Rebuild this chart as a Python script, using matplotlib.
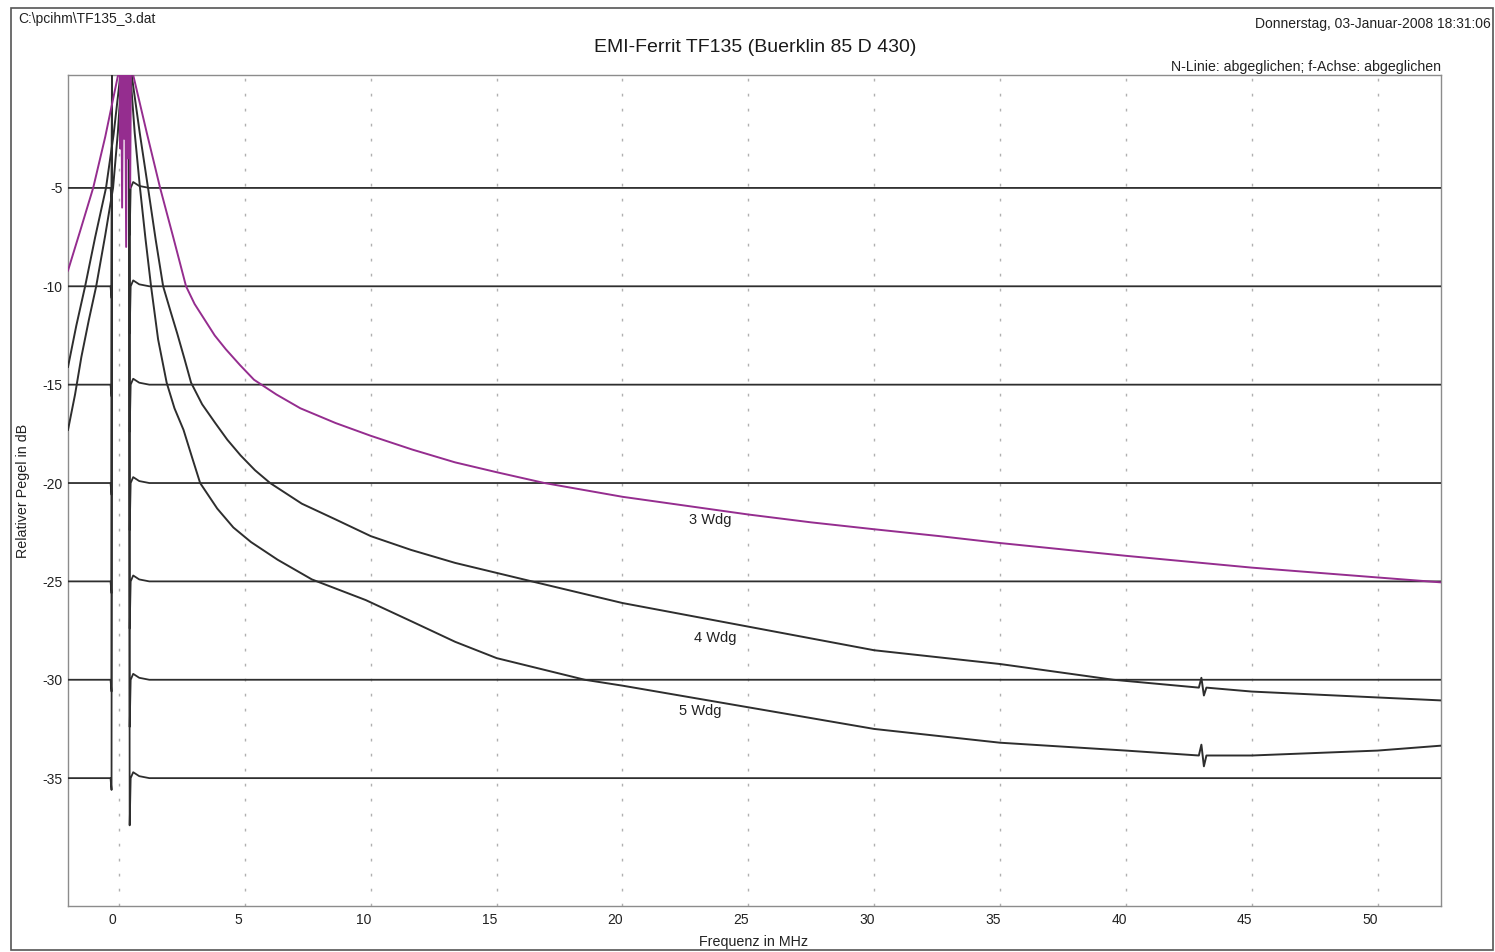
import matplotlib
matplotlib.use("Agg")
import matplotlib.pyplot as plt
from matplotlib.patches import Rectangle
from matplotlib.transforms import ScaledTranslation

plt.rcParams['font.family'] = ['Liberation Sans', 'DejaVu Sans']

# ---------------- data ----------------
# flat calibration lines ("N-Linie"), level in dB
ref_levels = [-5, -10, -15, -20, -25, -30, -35]
# shape of each calibration line around the 0 Hz feed-through (offset from level, None = off-scale peak)
ref_freq = [-2.03, -0.34, -0.30, -0.28, 0.40, 0.42, 0.46, 0.56, 0.80, 1.20, 52.52]
ref_offset = [0.0, 0.0, -0.6, None, None, -2.4, 0.0, 0.3, 0.1, 0.0, 0.0]
peak_db = 3.0

# 3 windings (purple)
w3_freq = [-2.03, -1.55, -1.03, -0.55, -0.04, 0.02, 0.05, 0.08, 0.12, 0.16, 0.20, 0.24,
           0.28, 0.32, 0.36, 0.40, 0.44, 0.48, 0.56, 1.10, 1.63, 2.15, 2.66, 3.0, 3.4, 3.8,
           4.24, 4.8, 5.36, 6.25, 7.2, 8.6, 10.0, 11.65, 13.35, 15.0, 16.9, 20.0, 22.5,
           25.0, 27.5, 30.0, 32.6, 35.0, 40.0, 45.0, 50.0, 52.52]
w3_db = [-9.2, -7.2, -5.0, -2.4, 0.74, 3.0, -3.0, 3.0, -6.0, 3.0, -2.5, 3.0,
         -8.0, 3.0, -3.5, 3.0, -5.0, 3.0, 0.74, -2.2, -5.0, -7.5, -10.0, -10.9, -11.7, -12.5,
         -13.2, -14.0, -14.75, -15.5, -16.2, -16.95, -17.6, -18.3, -18.95, -19.45, -20.0, -20.7, -21.15,
         -21.6, -22.0, -22.35, -22.7, -23.05, -23.7, -24.3, -24.8, -25.05]

# 4 windings
w4_freq = [-2.03, -1.70, -1.35, -0.95, -0.52, -0.22, 0.05, 0.12, 0.42, 0.50, 0.82, 1.15,
           1.45, 1.75, 2.05, 2.31, 2.60, 2.86, 3.30, 3.82, 4.30, 4.83, 5.40, 6.0, 7.26, 8.6,
           10.0, 11.6, 13.35, 16.4, 20.0, 25.0, 30.0, 35.0, 39.5, 42.9, 43.0, 43.1, 43.2,
           45.0, 50.0, 52.52]
w4_db = [-14.1, -12.0, -10.0, -7.5, -5.0, -2.3, 0.74, 3.0, 3.0, 0.74, -2.2, -5.0,
         -7.6, -10.0, -11.3, -12.4, -13.7, -14.9, -16.0, -16.95, -17.8, -18.6, -19.35, -20.0, -21.05, -21.85,
         -22.7, -23.4, -24.06, -25.0, -26.1, -27.3, -28.5, -29.2, -30.0, -30.4, -29.9, -30.8, -30.4,
         -30.6, -30.9, -31.05]

# 5 windings
w5_freq = [-2.03, -1.75, -1.50, -1.20, -0.91, -0.55, -0.24, -0.05, 0.10, 0.16, 0.40, 0.45,
           0.62, 0.83, 1.05, 1.27, 1.55, 1.89, 2.20, 2.56, 2.90, 3.22, 3.90, 4.54, 5.24, 6.3,
           7.66, 9.8, 11.65, 13.35, 15.0, 18.5, 20.0, 25.0, 30.0, 35.0, 40.0, 42.9, 43.0, 43.1,
           43.2, 45.0, 50.0, 52.52]
w5_db = [-17.3, -15.5, -13.6, -11.7, -10.0, -7.4, -5.0, -2.2, 0.74, 3.0, 3.0, 0.74,
         -2.2, -5.0, -7.6, -10.0, -12.7, -14.9, -16.2, -17.3, -18.7, -20.0, -21.3, -22.26, -23.0, -23.9,
         -24.9, -25.95, -27.05, -28.07, -28.9, -30.0, -30.3, -31.4, -32.5, -33.2, -33.6, -33.85, -33.3, -34.4,
         -33.85, -33.85, -33.6, -33.35]

curve_labels = ["3 Wdg", "4 Wdg", "5 Wdg"]
label_pos = [(23.5, -21.9), (23.7, -27.9), (23.1, -31.6)]

x_ticks = [0, 5, 10, 15, 20, 25, 30, 35, 40, 45, 50]
y_ticks = [-5, -10, -15, -20, -25, -30, -35]

# ---------------- figure ----------------
W, H = 1495, 952
fig = plt.figure(figsize=(W / 100, H / 100), dpi=100)
fig.patch.set_facecolor('white')

ax_l, ax_r, ax_t, ax_b = 68, 1441, 75, 906
ax = fig.add_axes([ax_l / W, 1 - ax_b / H, (ax_r - ax_l) / W, (ax_b - ax_t) / H])
ax.set_xlim(-2.03, 52.52)
ax.set_ylim(-41.5, 0.74)

black = '#2e2e2e'
purple = '#952d8f'

for lvl in ref_levels:
    ys = [peak_db if o is None else lvl + o for o in ref_offset]
    ax.plot(ref_freq, ys, color=black, lw=1.3, zorder=3)

ax.plot(w5_freq, w5_db, color=black, lw=1.4, zorder=3)
ax.plot(w4_freq, w4_db, color=black, lw=1.4, zorder=3)
ax.plot(w3_freq, w3_db, color=purple, lw=1.4, zorder=4)

for txt, (fx, fy) in zip(curve_labels, label_pos):
    ax.text(fx, fy, txt, fontsize=10.5, color='#222222', ha='center', va='center', zorder=5)

# grid & axes style
ax.set_xticks(x_ticks)
ax.set_yticks(y_ticks)
ax.set_xticklabels([str(t) for t in x_ticks])
ax.set_yticklabels([str(t) for t in y_ticks])
ax.tick_params(axis='both', length=0, labelsize=10, labelcolor='#222222')
ax.tick_params(axis='x', pad=5)
ax.tick_params(axis='y', pad=4)
for lab in ax.get_xticklabels():
    lab.set_transform(lab.get_transform() + ScaledTranslation(-7 / 100, 0, fig.dpi_scale_trans))
ax.xaxis.grid(True, color='#b0b0b0', lw=1.0, linestyle=(0, (2, 8.8)))
ax.yaxis.grid(False)
for sp in ax.spines.values():
    sp.set_color('#8c8c8c')
    sp.set_linewidth(1.0)

# texts
fig.text(18 / W, 1 - 19 / H, r"C:\pcihm\TF135_3.dat", fontsize=10, color='#222222',
         ha='left', va='center')
fig.text(1491 / W, 1 - 24 / H, "Donnerstag, 03-Januar-2008 18:31:06", fontsize=10,
         color='#222222', ha='right', va='center')
fig.text(755 / W, 1 - 47 / H, "EMI-Ferrit TF135 (Buerklin 85 D 430)", fontsize=14,
         color='#1a1a1a', ha='center', va='center')
fig.text(1441 / W, 1 - 67 / H, "N-Linie: abgeglichen; f-Achse: abgeglichen", fontsize=10.2,
         color='#222222', ha='right', va='center')
fig.text(754 / W, 1 - 942 / H, "Frequenz in MHz", fontsize=10.3, color='#222222',
         ha='center', va='center')
fig.text(23 / W, 1 - 491 / H, "Relativer Pegel in dB", fontsize=10.3, color='#222222',
         ha='center', va='center', rotation=90)

# page frame
fig.add_artist(Rectangle((11 / W, 1 - 950 / H), (1493 - 11) / W, (950 - 8) / H,
                         transform=fig.transFigure, fill=False, edgecolor='#555555', lw=1.2))

fig.savefig('out.png', dpi=100, facecolor='white')
